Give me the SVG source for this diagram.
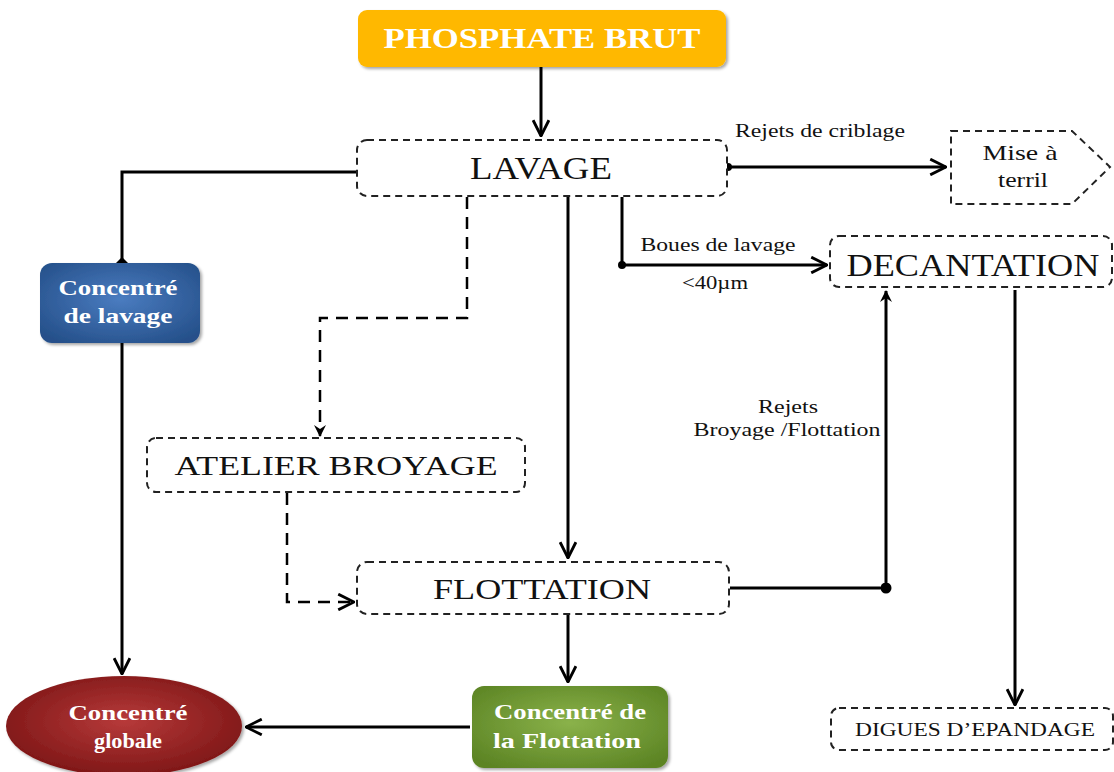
<svg xmlns="http://www.w3.org/2000/svg" width="1114" height="772" viewBox="0 0 1114 772">
  <defs>
    <style>
      .dash { fill: #fff; stroke: #222; stroke-width: 2; stroke-dasharray: 7 5; }
      .lbl { font-family: "Liberation Serif", "Times New Roman", serif; fill: #111; text-anchor: middle; }
      .wt { font-family: "Liberation Serif", "Times New Roman", serif; fill: #fff; font-weight: bold; text-anchor: middle; }
      .ln { fill: none; stroke: #000; stroke-width: 3; }
      .dl { fill: none; stroke: #000; stroke-width: 2.5; stroke-dasharray: 12 8; }
    </style>
    <marker id="arr" viewBox="0 0 12 12" refX="11" refY="6" markerWidth="12" markerHeight="12" markerUnits="userSpaceOnUse" orient="auto">
      <path d="M0,0 L12,6 L0,12 L4,6 Z" fill="#000"/>
    </marker>
    <marker id="arrBig" viewBox="0 0 16 16" refX="15" refY="8" markerWidth="18" markerHeight="18" markerUnits="userSpaceOnUse" orient="auto">
      <path d="M1,1 L15,8 L1,15" fill="none" stroke="#000" stroke-width="2.5"/>
    </marker>
    <marker id="dot" viewBox="0 0 10 10" refX="5" refY="5" markerWidth="8" markerHeight="8" markerUnits="userSpaceOnUse">
      <circle cx="5" cy="5" r="5" fill="#000"/>
    </marker>
    <marker id="dotBig" viewBox="0 0 10 10" refX="5" refY="5" markerWidth="11" markerHeight="11" markerUnits="userSpaceOnUse">
      <circle cx="5" cy="5" r="5" fill="#000"/>
    </marker>
    <marker id="diam" viewBox="0 0 12 12" refX="6" refY="6" markerWidth="14" markerHeight="14" markerUnits="userSpaceOnUse">
      <path d="M6,0 L12,6 L6,12 L0,6 Z" fill="#000"/>
    </marker>
    <radialGradient id="gBlue" cx="50%" cy="45%" r="65%">
      <stop offset="0" stop-color="#4A7CC0"/>
      <stop offset="1" stop-color="#25508A"/>
    </radialGradient>
    <radialGradient id="gRed" cx="50%" cy="45%" r="60%">
      <stop offset="0" stop-color="#B73A3A"/>
      <stop offset="1" stop-color="#7A1414"/>
    </radialGradient>
    <radialGradient id="gGreen" cx="50%" cy="45%" r="65%">
      <stop offset="0" stop-color="#8AB24A"/>
      <stop offset="1" stop-color="#5C8424"/>
    </radialGradient>
    <filter id="sh" x="-10%" y="-10%" width="125%" height="130%">
      <feDropShadow dx="2" dy="2" stdDeviation="1.5" flood-color="#000" flood-opacity="0.35"/>
    </filter>
  </defs>

  <rect width="1114" height="772" fill="#fff"/>

  <!-- connectors -->
  <g id="connectors">
    <path class="ln" d="M541,67 V136" marker-end="url(#arrBig)"/>
    <path class="ln" d="M357,172 H122 V264" marker-end="url(#diam)"/>
    <path class="ln" d="M122,343 V674" marker-end="url(#arrBig)"/>
    <path class="dl" d="M467,197 V318 H320 V436" marker-end="url(#arr)"/>
    <path class="dl" d="M287,493 V602 H354" marker-end="url(#arrBig)"/>
    <path class="ln" d="M568,197 V558" marker-end="url(#arrBig)"/>
    <path class="ln" d="M622,197 V265"/>
    <path class="ln" d="M622,265 H827" marker-start="url(#dot)" marker-end="url(#arrBig)"/>
    <path class="ln" d="M728,167 H946" marker-start="url(#dot)" marker-end="url(#arrBig)"/>
    <path class="ln" d="M730,588 H886" marker-end="url(#dotBig)"/>
    <path class="ln" d="M886,588 V291" marker-end="url(#arr)"/>
    <path class="ln" d="M1015,290 V705" marker-end="url(#arrBig)"/>
    <path class="ln" d="M568,615 V682" marker-end="url(#arrBig)"/>
    <path class="ln" d="M470,727 H246" marker-end="url(#arrBig)"/>
    <text class="lbl" x="820" y="137" font-size="18" textLength="170" lengthAdjust="spacingAndGlyphs">Rejets de criblage</text>
    <text class="lbl" x="718" y="251" font-size="18" textLength="155" lengthAdjust="spacingAndGlyphs">Boues de lavage</text>
    <text class="lbl" x="715" y="289" font-size="18" textLength="66" lengthAdjust="spacingAndGlyphs">&lt;40µm</text>
    <text class="lbl" x="788" y="413" font-size="18" textLength="60" lengthAdjust="spacingAndGlyphs">Rejets</text>
    <text class="lbl" x="787" y="436" font-size="18" textLength="187" lengthAdjust="spacingAndGlyphs">Broyage /Flottation</text>
  </g>

  <g id="phosphate-brut">
    <rect x="358" y="10" width="368" height="57" rx="9" fill="#FFB800" filter="url(#sh)"/>
    <text class="wt" x="542" y="48" font-size="30" textLength="317" lengthAdjust="spacingAndGlyphs">PHOSPHATE BRUT</text>
  </g>

  <g id="lavage">
    <rect class="dash" x="357" y="140" width="370" height="56" rx="10"/>
    <text class="lbl" x="541" y="179" font-size="31" textLength="142" lengthAdjust="spacingAndGlyphs">LAVAGE</text>
  </g>

  <g id="mise-a-terril">
    <path class="dash" d="M951,131 H1072 L1110,167 L1072,204 H951 Z"/>
    <text class="lbl" x="1020" y="160" font-size="21" textLength="75" lengthAdjust="spacingAndGlyphs">Mise à</text>
    <text class="lbl" x="1023" y="187" font-size="21" textLength="50" lengthAdjust="spacingAndGlyphs">terril</text>
  </g>

  <g id="decantation">
    <rect class="dash" x="830" y="236" width="282" height="51" rx="9"/>
    <text class="lbl" x="973" y="276" font-size="32" textLength="253" lengthAdjust="spacingAndGlyphs">DECANTATION</text>
  </g>

  <g id="concentre-lavage">
    <rect x="40" y="263" width="160" height="80" rx="12" fill="url(#gBlue)" filter="url(#sh)"/>
    <text class="wt" x="118" y="295" font-size="22" textLength="119" lengthAdjust="spacingAndGlyphs">Concentré</text>
    <text class="wt" x="118" y="323" font-size="22" textLength="109" lengthAdjust="spacingAndGlyphs">de lavage</text>
  </g>

  <g id="atelier-broyage">
    <rect class="dash" x="147" y="438" width="378" height="54" rx="9"/>
    <text class="lbl" x="336" y="475" font-size="28" textLength="323" lengthAdjust="spacingAndGlyphs">ATELIER BROYAGE</text>
  </g>

  <g id="flottation">
    <rect class="dash" x="357" y="562" width="372" height="52" rx="10"/>
    <text class="lbl" x="542" y="599" font-size="29" textLength="218" lengthAdjust="spacingAndGlyphs">FLOTTATION</text>
  </g>

  <g id="concentre-globale">
    <ellipse cx="124" cy="726" rx="118" ry="50" fill="url(#gRed)" filter="url(#sh)"/>
    <text class="wt" x="128" y="720" font-size="22" textLength="119" lengthAdjust="spacingAndGlyphs">Concentré</text>
    <text class="wt" x="128" y="748" font-size="22" textLength="68" lengthAdjust="spacingAndGlyphs">globale</text>
  </g>

  <g id="concentre-flottation">
    <rect x="472" y="686" width="196" height="82" rx="12" fill="url(#gGreen)" filter="url(#sh)"/>
    <text class="wt" x="570" y="719" font-size="22" textLength="152" lengthAdjust="spacingAndGlyphs">Concentré de</text>
    <text class="wt" x="567" y="748" font-size="22" textLength="148" lengthAdjust="spacingAndGlyphs">la Flottation</text>
  </g>

  <g id="digues">
    <rect class="dash" x="831" y="708" width="282" height="42" rx="8"/>
    <text class="lbl" x="975" y="736" font-size="18" textLength="240" lengthAdjust="spacingAndGlyphs">DIGUES D’EPANDAGE</text>
  </g>
</svg>
